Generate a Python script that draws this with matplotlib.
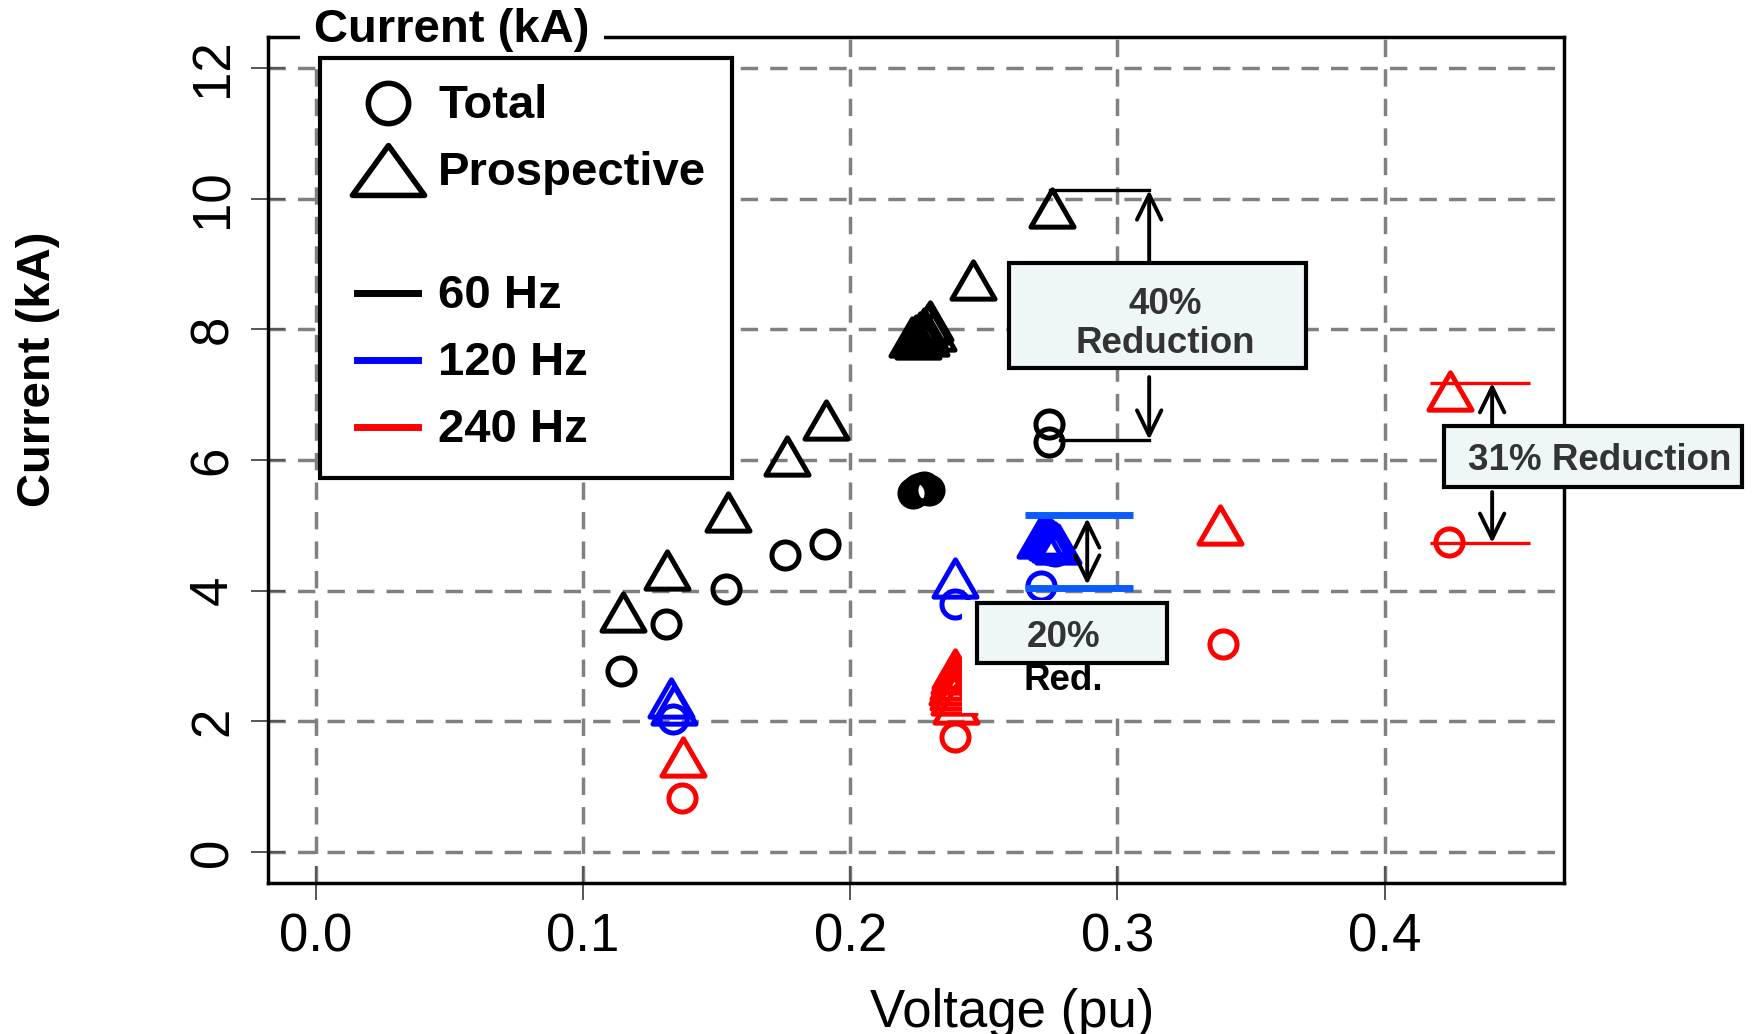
import matplotlib
matplotlib.use('Agg')
import matplotlib.pyplot as plt
from matplotlib.lines import Line2D
from matplotlib.patches import Rectangle
from matplotlib.legend_handler import HandlerLine2D
from matplotlib.path import Path

plt.rcParams['font.family'] = ['Liberation Sans', 'DejaVu Sans']

# ---------------- data ----------------
x60_tri = [0.1148, 0.1315, 0.1541, 0.1763, 0.1910,
           0.2230, 0.2245, 0.2260, 0.2275, 0.2290, 0.2300, 0.2310, 0.2255, 0.2285,
           0.2459, 0.2756]
y60_tri = [3.68, 4.31, 5.20, 6.06, 6.61,
           7.88, 7.92, 7.96, 8.02, 8.08, 8.13, 7.98, 7.86, 7.90,
           8.75, 9.86]
x60_cir = [0.1143, 0.1311, 0.1533, 0.1755, 0.1906,
           0.2235, 0.2245, 0.2255, 0.2265, 0.2275, 0.2285, 0.2295,
           0.2744, 0.2744]
y60_cir = [2.77, 3.49, 4.02, 4.55, 4.72,
           5.50, 5.53, 5.56, 5.57, 5.58, 5.56, 5.54,
           6.55, 6.28]

x120_tri = [0.1330, 0.1340, 0.2392, 0.2711, 0.2730, 0.2745, 0.2755, 0.2765, 0.2778]
y120_tri = [2.36, 2.25, 4.19, 4.80, 4.84, 4.82, 4.78, 4.74, 4.72]
x120_cir = [0.1337, 0.2392, 0.2714, 0.2750, 0.2765]
y120_cir = [2.03, 3.80, 4.07, 4.62, 4.60]

x240_tri = [0.1374, 0.2392, 0.2388, 0.2384, 0.2382, 0.2386, 0.2390, 0.2396, 0.3385, 0.4246]
y240_tri = [1.45, 2.80, 2.72, 2.64, 2.56, 2.48, 2.40, 2.26, 5.00, 7.06]
x240_cir = [0.1370, 0.2392, 0.3396, 0.4242]
y240_cir = [0.83, 1.76, 3.18, 4.74]

xticks = [0.0, 0.1, 0.2, 0.3, 0.4]
xticklabels = ['0.0', '0.1', '0.2', '0.3', '0.4']
yticks = [0, 2, 4, 6, 8, 10, 12]
yticklabels = ['0', '2', '4', '6', '8', '10', '12']

legend_labels = ['Total', 'Prospective', '', '60 Hz', '120 Hz', '240 Hz']
colors = {'60': 'black', '120': '#0000ff', '240': '#ff0000'}

# ---------------- figure ----------------
W, H = 1754, 1034
fig = plt.figure(figsize=(W / 100, H / 100), dpi=100)
ax = fig.add_axes([268 / W, 1 - 883 / H, 1296 / W, 846 / H])
ax.set_xlim(-0.018, 0.4672)
ax.set_ylim(-0.4745, 12.475)

tri = Path([(0, 0.433), (-0.5, -0.433), (0.5, -0.433), (0, 0.433)],
           [Path.MOVETO, Path.LINETO, Path.LINETO, Path.CLOSEPOLY])
tri_wide = Path([(0, 0.345), (-0.5, -0.345), (0.5, -0.345), (0, 0.345)],
                [Path.MOVETO, Path.LINETO, Path.LINETO, Path.CLOSEPOLY])

series = [
    (x60_cir, y60_cir, x60_tri, y60_tri, colors['60']),
    (x120_cir, y120_cir, x120_tri, y120_tri, colors['120']),
    (x240_cir, y240_cir, x240_tri, y240_tri, colors['240']),
]
for xc, yc, xt, yt, c in series:
    ax.plot(xt, yt, ls='none', marker=tri, ms=31, mfc='none', mec=c, mew=3.6, zorder=3)
    ax.plot(xc, yc, ls='none', marker='o', ms=19.5, mfc='none', mec=c, mew=3.6, zorder=3)

# grid / ticks / spines
ax.set_xticks(xticks)
ax.set_xticklabels(xticklabels)
ax.set_yticks(yticks)
ax.set_yticklabels(yticklabels)
ax.grid(True, color='#808080', lw=2.5, ls=(0, (5, 3.5)), zorder=1)
ax.set_axisbelow(True)
ax.tick_params(axis='both', direction='inout', length=25, width=1.4, color='#555555',
               labelsize=38)
ax.tick_params(axis='x', pad=9)
ax.tick_params(axis='y', pad=9, labelrotation=90)
for lab in ax.get_yticklabels():
    lab.set_va('center')
for s in ax.spines.values():
    s.set_linewidth(2.5)
    s.set_color('black')

ax.set_xlabel('Voltage (pu)', fontsize=38)
ax.xaxis.set_label_coords((1012 - 268) / 1296, -(988 - 883) / 846)
ax.set_ylabel('Current (kA)', fontsize=34, fontweight='bold', va='center')
ax.yaxis.set_label_coords((38 - 268) / 1296, 1 - (369 - 37) / 846)

ax.text((452 - 268) / 1296, 1 + (37 - 30) / 846, 'Current (kA)', transform=ax.transAxes,
        fontsize=34, fontweight='bold', ha='center', va='center', zorder=4,
        bbox=dict(boxstyle='square,pad=0.3', fc='white', ec='none'), clip_on=False)

# ---------------- annotations ----------------
box_fc = '#eef6f8'
txt_c = '#333333'
arr = dict(arrowstyle='->,head_length=0.45,head_width=0.22', lw=2.8, color='black',
           mutation_scale=40, shrinkA=0, shrinkB=0)

# 40 % reduction (60 Hz)
ax.plot([0.2748, 0.3119], [10.13, 10.13], color='black', lw=2.4, zorder=5)
ax.plot([0.2785, 0.3119], [6.31, 6.31], color='black', lw=2.4, zorder=5)
ax.annotate('', xy=(0.3119, 10.13), xytext=(0.3119, 9.02), arrowprops=arr, zorder=5)
ax.annotate('', xy=(0.3119, 6.31), xytext=(0.3119, 7.27), arrowprops=arr, zorder=5)
ax.add_patch(Rectangle((0.2595, 7.41), 0.3707 - 0.2595, 9.02 - 7.41, fc=box_fc, ec='black',
                       lw=3, zorder=6))
ax.text(0.3179, 8.08, '40%\nReduction', fontsize=26.5, fontweight='bold', color=txt_c,
        ha='center', va='center', linespacing=1.15, zorder=7)

# 20 % reduction (120 Hz)
ax.hlines([5.16, 4.04], 0.2654, 0.3059, colors='#0a5cff', lw=5, zorder=4)
ax.annotate('', xy=(0.2887, 5.11), xytext=(0.2887, 4.09),
            arrowprops=dict(arrowstyle='<->,head_length=0.45,head_width=0.22', lw=2.8,
                            color='black', mutation_scale=40, shrinkA=0, shrinkB=0),
            zorder=5)
ax.add_patch(Rectangle((0.2419, 2.13), 0.3197 - 0.2419, 3.86 - 2.13, fc='white', ec='none',
                       zorder=5.5))
ax.add_patch(Rectangle((0.2475, 2.89), 0.3186 - 0.2475, 3.81 - 2.89, fc=box_fc, ec='black',
                       lw=3, zorder=6))
ax.text(0.2797, 3.29, '20%', fontsize=26.5, fontweight='bold', color=txt_c,
        ha='center', va='center', zorder=7)
ax.text(0.2797, 2.63, 'Red.', fontsize=26.5, fontweight='bold', color='black',
        ha='center', va='center', zorder=7)

# 31 % reduction (240 Hz)
ax.hlines([7.18, 4.73], 0.4171, 0.4545, colors='#ff0000', lw=2.4, zorder=4)
ax.annotate('', xy=(0.4403, 7.18), xytext=(0.4403, 6.54), arrowprops=arr, zorder=5)
ax.annotate('', xy=(0.4403, 4.73), xytext=(0.4403, 5.51), arrowprops=arr, zorder=5)
ax.add_patch(Rectangle((0.4223, 5.59), 0.5339 - 0.4223, 6.52 - 5.59, fc=box_fc, ec='black',
                       lw=3, zorder=6, clip_on=False))
ax.text(0.4807, 6.00, '31% Reduction', fontsize=26.5, fontweight='bold', color=txt_c,
        ha='center', va='center', zorder=7, clip_on=False)

# ---------------- legend ----------------
handles = [
    Line2D([], [], ls='none', marker='o', ms=29, mfc='none', mec='black', mew=4),
    Line2D([], [], ls='none', marker=tri_wide, ms=52, mfc='none', mec='black', mew=4),
    Line2D([], [], ls='none'),
    Line2D([], [], color=colors['60'], lw=5),
    Line2D([], [], color=colors['120'], lw=5),
    Line2D([], [], color=colors['240'], lw=5),
]
leg = ax.legend(handles, legend_labels, loc='upper left',
                bbox_to_anchor=((320 - 268) / 1296, 1 - (58 - 37) / 846), borderaxespad=0,
                prop={'family': 'Liberation Sans', 'weight': 'bold', 'size': 34},
                borderpad=0.55, labelspacing=0.49, handlelength=1.53, handletextpad=0.42,
                handleheight=0.5,
                handler_map={Line2D: HandlerLine2D(xpad=0.23)},
                frameon=True, fancybox=False, edgecolor='black', framealpha=1)
leg.get_frame().set_linewidth(3)
leg.get_texts()[2].set_fontsize(8)
leg.set_zorder(8)

fig.savefig('out.png', dpi=100, facecolor='white')
